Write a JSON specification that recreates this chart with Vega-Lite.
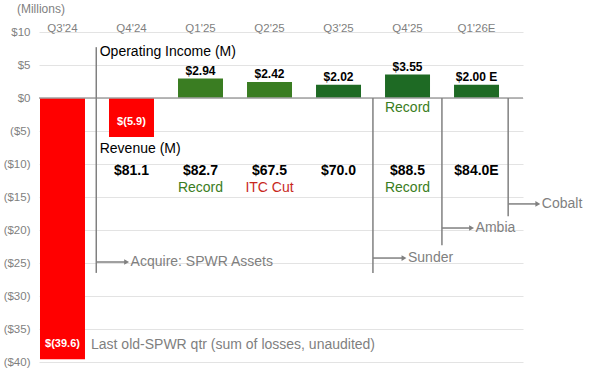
{
  "$schema": "https://vega.github.io/schema/vega-lite/v6.json",
  "width": 484,
  "height": 330,
  "autosize": {"type": "none"},
  "padding": {"left": 39, "top": 32, "right": 66, "bottom": 13},
  "config": {
    "font": "Liberation Sans",
    "view": {"stroke": null},
    "axisY": {"values": [-40, -35, -30, -25, -20, -15, -10, -5, 0, 5, 10], "labelExpr": "datum.value < 0 ? '($' + abs(datum.value) + ')' : '$' + datum.value", "ticks": false, "domain": false, "grid": true, "gridColor": "#e3e3e3", "labelColor": "#7f7f7f", "labelFontSize": 11.5, "labelPadding": 9}
  },
  "layer": [
    {
      "encoding": {
        "x": {
          "field": "q",
          "type": "nominal",
          "sort": null,
          "scale": {"domain": ["Q3'24", "Q4'24", "Q1'25", "Q2'25", "Q3'25", "Q4'25", "Q1'26E"], "paddingInner": 0.348, "paddingOuter": 0.181, "align": 0.04},
          "axis": {"orient": "top", "title": null, "ticks": false, "domain": false, "grid": false, "labelAngle": 0, "labelColor": "#7f7f7f", "labelFontSize": 11.5, "labelPadding": 1, "labelBaseline": "alphabetic"}
        }
      },
      "layer": [
        {
          "data": {"values": [
            {"q": "Q3'24", "v": -39.6, "lbl": "$(39.6)"},
            {"q": "Q4'24", "v": -5.9, "lbl": "$(5.9)"},
            {"q": "Q1'25", "v": 2.94, "lbl": "$2.94"},
            {"q": "Q2'25", "v": 2.42, "lbl": "$2.42"},
            {"q": "Q3'25", "v": 2.02, "lbl": "$2.02"},
            {"q": "Q4'25", "v": 3.55, "lbl": "$3.55"},
            {"q": "Q1'26E", "v": 2.0, "lbl": "$2.00 E"}
          ]},
          "layer": [
            {
              "mark": {"type": "bar"},
              "encoding": {
                "y": {"field": "v", "type": "quantitative", "scale": {"domain": [-40, 10], "nice": false}, "axis": {"title": null}},
                "color": {"field": "q", "type": "nominal", "scale": {"domain": ["Q3'24", "Q4'24", "Q1'25", "Q2'25", "Q3'25", "Q4'25", "Q1'26E"], "range": ["#ff0000", "#ff0000", "#3a7d22", "#3a7d22", "#1e6a24", "#1e6a24", "#1e6a24"]}, "legend": null}
              }
            },
            {
              "transform": [{"filter": "datum.v > 0"}],
              "mark": {"type": "text", "baseline": "bottom", "dy": -1, "fontSize": 12, "fontWeight": "bold", "color": "#000000"},
              "encoding": {
                "y": {"field": "v", "type": "quantitative", "scale": {"domain": [-40, 10], "nice": false}, "axis": {"title": null}},
                "text": {"field": "lbl"}
              }
            },
            {
              "transform": [{"filter": "datum.v < 0"}],
              "mark": {"type": "text", "baseline": "middle", "dy": -15, "fontSize": 11, "fontWeight": "bold", "color": "#ffffff"},
              "encoding": {
                "y": {"field": "v", "type": "quantitative", "scale": {"domain": [-40, 10], "nice": false}, "axis": {"title": null}},
                "text": {"field": "lbl"}
              }
            }
          ]
        },
        {
          "data": {"values": [
            {"q": "Q4'24", "rev": "$81.1", "note": ""},
            {"q": "Q1'25", "rev": "$82.7", "note": "Record"},
            {"q": "Q2'25", "rev": "$67.5", "note": "ITC Cut"},
            {"q": "Q3'25", "rev": "$70.0", "note": ""},
            {"q": "Q4'25", "rev": "$88.5", "note": "Record"},
            {"q": "Q1'26E", "rev": "$84.0E", "note": ""}
          ]},
          "layer": [
            {
              "mark": {"type": "text", "baseline": "middle", "fontSize": 14, "fontWeight": "bold", "color": "#000000"},
              "encoding": {
                "y": {"datum": -11.06, "type": "quantitative", "scale": {"domain": [-40, 10], "nice": false}, "axis": {"title": null}},
                "text": {"field": "rev"}
              }
            },
            {
              "transform": [{"filter": "datum.note == 'Record'"}],
              "mark": {"type": "text", "baseline": "middle", "fontSize": 14, "color": "#3a7d22"},
              "encoding": {
                "y": {"datum": -13.64, "type": "quantitative", "scale": {"domain": [-40, 10], "nice": false}, "axis": {"title": null}},
                "text": {"field": "note"}
              }
            },
            {
              "transform": [{"filter": "datum.note == 'ITC Cut'"}],
              "mark": {"type": "text", "baseline": "middle", "fontSize": 14, "color": "#c8281e"},
              "encoding": {
                "y": {"datum": -13.64, "type": "quantitative", "scale": {"domain": [-40, 10], "nice": false}, "axis": {"title": null}},
                "text": {"field": "note"}
              }
            }
          ]
        },
        {
          "data": {"values": [{"q": "Q4'25", "t": "Record"}]},
          "mark": {"type": "text", "baseline": "middle", "fontSize": 14, "color": "#3a7d22"},
          "encoding": {
            "y": {"datum": -1.52, "type": "quantitative", "scale": {"domain": [-40, 10], "nice": false}, "axis": {"title": null}},
            "text": {"field": "t"}
          }
        }
      ]
    },
    {
      "layer": [
        {
          "data": {"values": [{"z": 0}]},
          "mark": {"type": "rule", "color": "#a0a0a0", "strokeWidth": 1.5},
          "encoding": {"y": {"field": "z", "type": "quantitative", "scale": {"domain": [-40, 10], "nice": false}, "axis": {"title": null}}}
        },
        {
          "data": {"values": [
            {"event": "Acquire: SPWR Assets", "at": 0.49, "top": 7.7, "bottom": -26.5, "arrowY": -24.85, "tip": 0.93},
            {"event": "Sunder", "at": 4.5, "top": 0, "bottom": -26.5, "arrowY": -24.25, "tip": 4.95},
            {"event": "Ambia", "at": 5.5, "top": 0, "bottom": -22.3, "arrowY": -19.7, "tip": 5.93},
            {"event": "Cobalt", "at": 6.46, "top": 0, "bottom": -17.9, "arrowY": -16.05, "tip": 6.89}
          ]},
          "layer": [
            {
              "mark": {"type": "rule", "color": "#808080", "strokeWidth": 1.5},
              "encoding": {
                "x": {"field": "at", "type": "quantitative", "scale": {"domain": [-0.34, 6.675], "nice": false, "zero": false}, "axis": null},
                "y": {"field": "top", "type": "quantitative", "scale": {"domain": [-40, 10], "nice": false}, "axis": {"title": null}},
                "y2": {"field": "bottom"}
              }
            },
            {
              "mark": {"type": "rule", "color": "#808080", "strokeWidth": 1.5},
              "encoding": {
                "x": {"field": "at", "type": "quantitative", "scale": {"domain": [-0.34, 6.675], "nice": false, "zero": false}, "axis": null},
                "x2": {"field": "tip"},
                "y": {"field": "arrowY", "type": "quantitative", "scale": {"domain": [-40, 10], "nice": false}, "axis": {"title": null}}
              }
            },
            {
              "mark": {"type": "point", "shape": "triangle-right", "filled": true, "color": "#808080", "size": 32, "opacity": 1},
              "encoding": {
                "x": {"field": "tip", "type": "quantitative", "scale": {"domain": [-0.34, 6.675], "nice": false, "zero": false}, "axis": null},
                "y": {"field": "arrowY", "type": "quantitative", "scale": {"domain": [-40, 10], "nice": false}, "axis": {"title": null}}
              }
            },
            {
              "mark": {"type": "text", "align": "left", "baseline": "middle", "dx": 4, "fontSize": 14, "color": "#7f7f7f"},
              "encoding": {
                "x": {"field": "tip", "type": "quantitative", "scale": {"domain": [-0.34, 6.675], "nice": false, "zero": false}, "axis": null},
                "y": {"field": "arrowY", "type": "quantitative", "scale": {"domain": [-40, 10], "nice": false}, "axis": {"title": null}},
                "text": {"field": "event"}
              }
            }
          ]
        },
        {
          "data": {"values": [
            {"t": "Operating Income (M)", "px": 0.54, "py": 7.0},
            {"t": "Revenue (M)", "px": 0.54, "py": -7.7}
          ]},
          "mark": {"type": "text", "align": "left", "baseline": "middle", "fontSize": 14, "color": "#000000"},
          "encoding": {
            "x": {"field": "px", "type": "quantitative", "scale": {"domain": [-0.34, 6.675], "nice": false, "zero": false}, "axis": null},
            "y": {"field": "py", "type": "quantitative", "scale": {"domain": [-40, 10], "nice": false}, "axis": {"title": null}},
            "text": {"field": "t"}
          }
        },
        {
          "data": {"values": [
            {"t": "Last old-SPWR qtr (sum of losses, unaudited)", "px": 0.414, "py": -37.4, "sz": "big"},
            {"t": "(Millions)", "px": -0.66, "py": 13.5, "sz": "small"}
          ]},
          "mark": {"type": "text", "align": "left", "baseline": "middle", "color": "#7f7f7f"},
          "encoding": {
            "x": {"field": "px", "type": "quantitative", "scale": {"domain": [-0.34, 6.675], "nice": false, "zero": false}, "axis": null},
            "y": {"field": "py", "type": "quantitative", "scale": {"domain": [-40, 10], "nice": false}, "axis": {"title": null}},
            "text": {"field": "t"},
            "size": {"field": "sz", "type": "nominal", "scale": {"domain": ["big", "small"], "range": [14, 12]}, "legend": null}
          }
        }
      ]
    }
  ],
  "resolve": {"scale": {"x": "independent"}, "axis": {"x": "independent"}}
}
